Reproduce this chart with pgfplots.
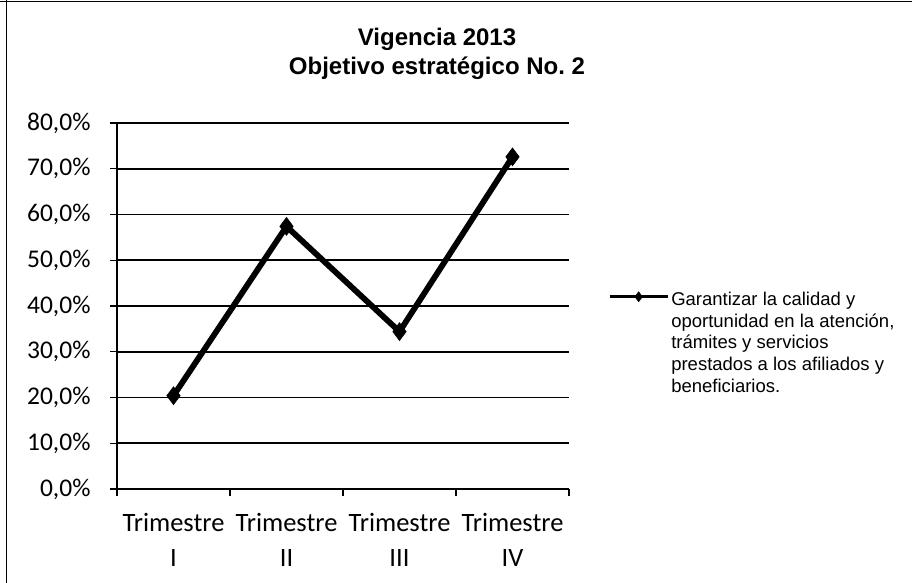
\documentclass[border=0pt]{standalone}
\usepackage{pgfplots}
\pgfplotsset{compat=1.18}
\usepackage{fontspec}
\setmainfont{Liberation Sans}
\newfontfamily\carlito{Carlito}
\begin{document}
\begin{tikzpicture}[x=1pt,y=1pt]
\useasboundingbox (-117,-94) rectangle (795,489);
\draw[line width=1pt] (-117,487) -- (795,487);
\draw[line width=0.8pt] (-111,-94) -- (-111,489);
\begin{axis}[
  at={(0,0)}, anchor=south west, scale only axis,
  width=452pt, height=366pt,
  xmin=-0.5, xmax=3.5, ymin=0, ymax=80,
  axis x line=bottom, axis y line=left,
  axis line style={-, line width=1.2pt},
  tick align=outside, major tick length=7pt,
  tick style={black, line width=1.2pt},
  ytick={0,10,...,80},
  ymajorgrids, grid style={black, line width=1.6pt},
  /pgf/number format/assume math mode=true,
  yticklabel={\pgfmathprintnumber[fixed,fixed zerofill,precision=1,use comma]{\tick}\%},
  yticklabel style={font=\carlito\fontsize{25.5}{30}\selectfont, anchor=east},
  yticklabel shift=16pt,
  xtick={-0.5,0.5,1.5,2.5,3.5},
  x tick label as interval,
  xticklabels={{Trimestre\\I},{Trimestre\\II},{Trimestre\\III},{Trimestre\\IV}},
  xticklabel style={align=center, font=\carlito\fontsize{26.5}{35}\selectfont, yshift=-14pt},
  legend style={at={(rel axis cs:1.086,0.545)}, anchor=north west, draw=none, fill=none,
    font=\fontsize{18.5}{21.7}\selectfont, inner sep=0pt},
  legend cell align=left,
  legend style={cells={anchor=north west, align=left, inner xsep=0pt}},
  legend image code/.code={\draw[mark repeat=2,mark phase=2,#1] plot coordinates {(0pt,-7pt)(29pt,-7pt)(58pt,-7pt)};},
  legend image post style={line width=3.2pt, mark size=5pt},
]
\addplot[black, line width=5.8pt, mark=diamond*, mark size=9pt, mark options={solid, line width=0.5pt}]
  coordinates {(0,20.4) (1,57.4) (2,34.4) (3,72.6)};
\addlegendentry{Garantizar la calidad y\\oportunidad en la atención,\\trámites y servicios\\prestados a los afiliados y\\beneficiarios.}
\end{axis}
\node[font=\bfseries\fontsize{24}{29}\selectfont, align=center] at (320,435) {Vigencia 2013\\Objetivo estratégico No.\ 2};
\end{tikzpicture}
\end{document}
